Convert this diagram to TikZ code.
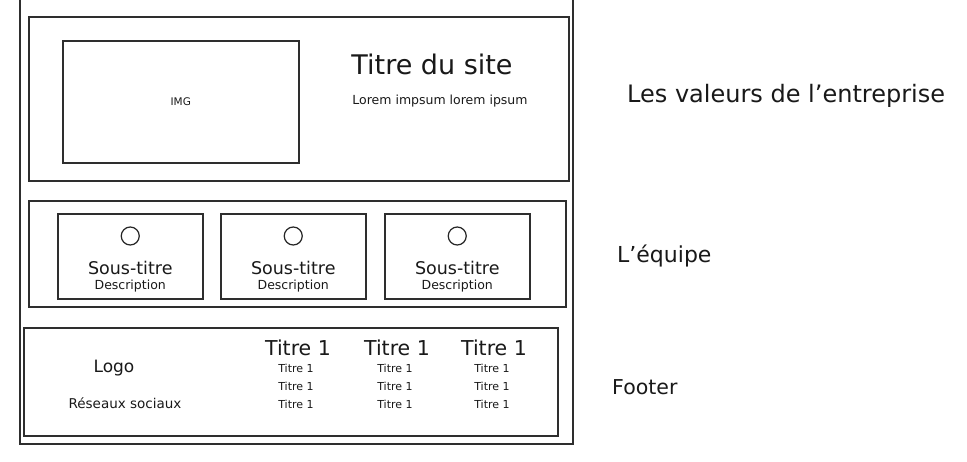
\documentclass[tikz,border=0pt]{standalone}
\usepackage{fontspec}
\setmainfont{DejaVu Sans}
\usetikzlibrary{calc}
\newcommand{\fs}[1]{\fontsize{#1}{#1}\selectfont}
\begin{document}
\begin{tikzpicture}[x=1pt,y=-1pt,
  frame/.style={draw=black!82, line width=1.5pt, rectangle, inner sep=0pt, anchor=north west},
  lbl/.style={inner sep=0pt, text=black!90},
  dot/.style={draw=black!85, line width=1.2pt, circle, minimum size=18pt, inner sep=0pt}]
\useasboundingbox[fill=white] (0,0) rectangle (967,461);

% page outline
\node[frame, minimum width=553pt, minimum height=453pt] (page) at (19,-10) {};

% hero section
\node[frame, minimum width=540pt, minimum height=164pt] (hero) at (28,16) {};
\node[frame, minimum width=236pt, minimum height=122pt] (img) at (62,40) {};
\node[lbl, font=\fs{10.5}] (imgtxt) at (img.center) {IMG};
\node[lbl, font=\fs{27}] (title) at (432,64) {Titre du site};
\node[lbl, font=\fs{12.5}] (lorem) at (440,101) {Lorem impsum lorem ipsum};

% team section
\node[frame, minimum width=537pt, minimum height=106pt] (team) at (28,200) {};
\foreach \i/\x in {1/57,2/220,3/384}{
  \node[frame, minimum width=145pt, minimum height=85pt] (card\i) at (\x,213) {};
  \node[dot] (face\i) at ($(card\i.north)+(0,23)$) {};
  \node[lbl, font=\fs{17.5}, anchor=base] (sub\i) at ($(card\i.north)+(0,61)$) {Sous-titre};
  \node[lbl, font=\fs{12.5}, anchor=base] (desc\i) at ($(card\i.north)+(0,76)$) {Description};
}

% footer section
\node[frame, minimum width=534pt, minimum height=108pt] (foot) at (23,327) {};
\node[lbl, font=\fs{17}] (logo) at (114,368) {Logo};
\node[lbl, font=\fs{13.5}] (social) at (125,403) {Réseaux sociaux};
\foreach \j/\x in {1/298,2/397,3/494}{
  \node[lbl, font=\fs{20.5}] (col\j) at (\x,348) {Titre 1};
  \foreach \k/\y in {1/368,2/386,3/404}{
    \node[lbl, font=\fs{11}] (item\j\k) at (\x-2,\y) {Titre 1};
  }
}

% section captions
\node[lbl, anchor=west, font=\fs{24}] (capvalues) at (627,96) {Les valeurs de l'entreprise};
\node[lbl, anchor=west, font=\fs{22}] (capteam) at (617,256) {L'équipe};
\node[lbl, anchor=west, font=\fs{20.5}] (capfoot) at (612,387) {Footer};
\end{tikzpicture}
\end{document}
